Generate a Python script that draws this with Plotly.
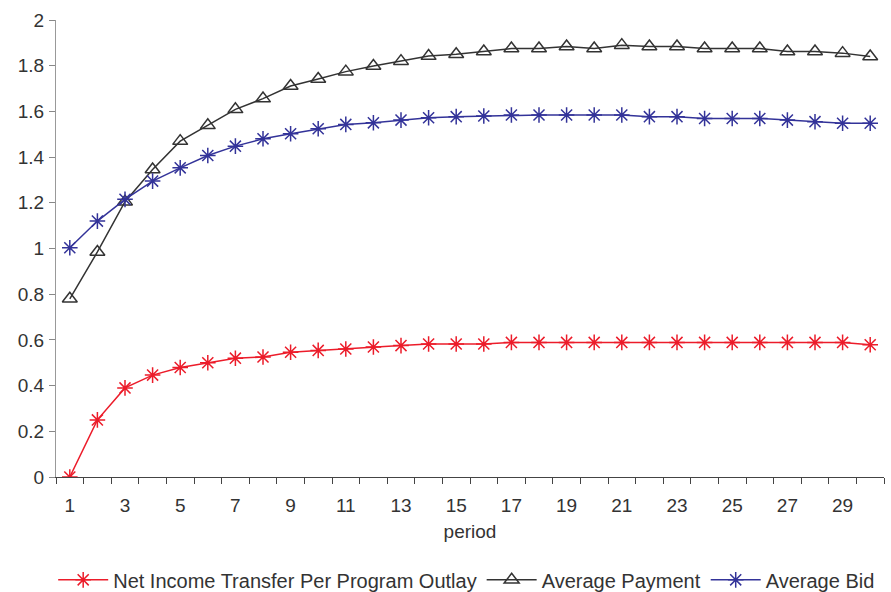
import plotly.graph_objects as go

periods = list(range(1, 31))
net_income = [0.0, 0.25, 0.39, 0.446, 0.479, 0.50, 0.52, 0.525, 0.546, 0.554,
              0.560, 0.569, 0.575, 0.582, 0.582, 0.582, 0.589, 0.589, 0.589, 0.589,
              0.589, 0.589, 0.589, 0.589, 0.589, 0.589, 0.589, 0.589, 0.589, 0.579]
avg_payment = [0.78, 0.985, 1.205, 1.346, 1.47, 1.539, 1.609, 1.656, 1.711, 1.742,
               1.774, 1.799, 1.82, 1.842, 1.85, 1.862, 1.875, 1.875, 1.884, 1.875,
               1.89, 1.884, 1.884, 1.875, 1.875, 1.875, 1.862, 1.862, 1.855, 1.84]
avg_bid = [1.003, 1.12, 1.215, 1.295, 1.353, 1.407, 1.448, 1.48, 1.502, 1.524,
           1.543, 1.55, 1.562, 1.572, 1.577, 1.58, 1.584, 1.584, 1.584, 1.584,
           1.584, 1.577, 1.577, 1.569, 1.569, 1.569, 1.562, 1.555, 1.548, 1.548]
x_tick_vals = list(range(1, 30, 2))
x_tick_labels = [str(p) for p in x_tick_vals]
y_tick_vals = [0, 0.2, 0.4, 0.6, 0.8, 1, 1.2, 1.4, 1.6, 1.8, 2]
y_tick_labels = ["0", "0.2", "0.4", "0.6", "0.8", "1", "1.2", "1.4", "1.6", "1.8", "2"]

RED = "#EC1C2A"
BLACK = "#333333"
BLUE = "#333399"
TEXT = "#333333"

fig = go.Figure()
fig.add_trace(go.Scatter(
    x=periods, y=net_income, name="Net Income Transfer Per Program Outlay",
    mode="lines+markers", line=dict(color=RED, width=1.5),
    marker=dict(symbol="asterisk-open", size=13, color=RED, line=dict(color=RED, width=1.5))))
fig.add_trace(go.Scatter(
    x=periods, y=avg_payment, name="Average Payment",
    mode="lines+markers", line=dict(color=BLACK, width=1.5),
    marker=dict(symbol="triangle-up-open", size=13, color=BLACK, line=dict(color=BLACK, width=1.5))))
fig.add_trace(go.Scatter(
    x=periods, y=avg_bid, name="Average Bid",
    mode="lines+markers", line=dict(color=BLUE, width=1.5),
    marker=dict(symbol="asterisk-open", size=13, color=BLUE, line=dict(color=BLUE, width=1.5))))

font_family = "Liberation Sans, Arial, sans-serif"
fig.update_layout(
    width=891, height=592,
    margin=dict(l=56, r=7, t=20, b=115, autoexpand=False),
    paper_bgcolor="white", plot_bgcolor="white",
    font=dict(family=font_family, size=19, color=TEXT),
    showlegend=True,
    legend=dict(orientation="h", x=0.496, xanchor="center", y=-0.225, yanchor="middle",
                font=dict(size=20, color=TEXT), itemwidth=50,
                bgcolor="rgba(0,0,0,0)"),
    xaxis=dict(
        range=[0.5, 30.5], tickmode="array",
        tickvals=x_tick_vals, ticktext=x_tick_labels,
        ticks="", showgrid=False, zeroline=False, automargin=False,
        showline=True, linecolor="#444444", linewidth=1,
        tickfont=dict(size=19, color=TEXT),
        ticklabelstandoff=11,
        minor=dict(tickmode="linear", tick0=0.5, dtick=1, ticks="outside",
                   ticklen=6, tickcolor="#444444", tickwidth=1, showgrid=False),
        title=dict(text="period", font=dict(size=19, color=TEXT), standoff=9),
    ),
    yaxis=dict(
        range=[0, 2], tickmode="array", tickvals=y_tick_vals, ticktext=y_tick_labels,
        ticks="outside", ticklen=6, tickcolor="#888888",
        showgrid=False, zeroline=False, automargin=False,
        showline=True, linecolor="#999999", linewidth=1,
        tickfont=dict(size=19, color=TEXT),
        ticklabelstandoff=1,
    ),
)

fig.write_html("out.html", config={"displayModeBar": False},
               post_script="document.body.style.margin='0';")
